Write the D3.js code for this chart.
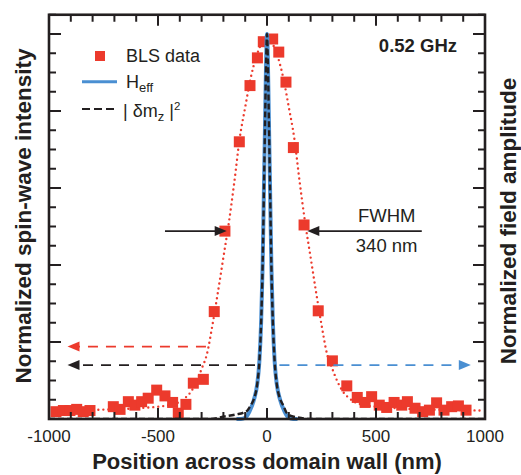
<!DOCTYPE html>
<html>
<head>
<meta charset="utf-8">
<script src="https://cdn.jsdelivr.net/npm/d3@7/dist/d3.min.js"></script>
<style>
  html, body { margin: 0; padding: 0; background: #fff; }
  svg { display: block; font-family: "Liberation Sans", Arial, Helvetica, sans-serif; }
</style>
</head>
<body>
<svg id="chart" width="521" height="475"></svg>
<script>
// BLS spin-wave intensity across the domain wall (position in nm, normalized intensity)
const blsX = [-968, -934, -904, -873, -843, -812, -705, -674, -636, -606, -575, -545, -506, -468, -433, -407, -372, -338, -292,
              -242, -193, -127, -78, -44, -17, 26, 54, 87, 121, 170, 235, 300, 366, 414, 450, 480, 515, 549, 583, 618, 644,
              679, 714, 745, 778, 812, 847, 878, 913];
const blsY = [0.019, 0.022, 0.022, 0.025, 0.019, 0.022, 0.032, 0.025, 0.045, 0.036, 0.045, 0.054, 0.075, 0.060, 0.043, 0.015, 0.038, 0.093, 0.103,
              0.279, 0.488, 0.720, 0.866, 0.938, 0.980, 0.987, 0.953, 0.875, 0.705, 0.504, 0.281, 0.151, 0.086, 0.056, 0.043, 0.058, 0.036, 0.030, 0.043, 0.036, 0.045,
              0.028, 0.019, 0.023, 0.042, 0.023, 0.032, 0.034, 0.023];

// Fit through the BLS profile (FWHM 340 nm)
const fitX = [-980, -900, -800, -700, -600, -500, -450, -400, -375, -350, -325, -300, -275, -250, -225, -200, -175, -150, -125, -100, -75, -50, -25, 0,
              25, 50, 75, 100, 125, 150, 175, 200, 225, 250, 275, 300, 325, 350, 375, 400, 450, 500, 600, 700, 800, 900, 980];
const fitY = [0.022, 0.023, 0.024, 0.025, 0.028, 0.032, 0.036, 0.045, 0.055, 0.07, 0.095, 0.13, 0.17, 0.245, 0.33, 0.42, 0.51, 0.615, 0.73, 0.81, 0.885, 0.94, 0.975, 0.993,
              0.975, 0.94, 0.885, 0.81, 0.73, 0.615, 0.51, 0.42, 0.33, 0.245, 0.17, 0.13, 0.095, 0.07, 0.055, 0.045, 0.036, 0.032, 0.028, 0.025, 0.024, 0.023, 0.022];

// Effective field profile H_eff
const heffX = [-140, -120, -100, -80, -60, -45, -35, -27, -20, -14, -8, -4, 0, 4, 8, 14, 20, 27, 35, 45, 60, 80, 100, 120, 140];
const heffY = [0, 0, 0.003, 0.02, 0.05, 0.09, 0.15, 0.25, 0.40, 0.60, 0.80, 0.93, 1.0, 0.93, 0.80, 0.60, 0.40, 0.25, 0.15, 0.09, 0.05, 0.02, 0.003, 0, 0];

// Dynamic magnetization |δm_z|^2
const dmX = [-1000, -260, -200, -140, -110, -90, -75, -60, -45, -35, -27, -20, -14, -8, -4, 0, 4, 8, 14, 20, 27, 35, 45, 60, 75, 90, 110, 140, 200, 1000];
const dmY = [0, 0, 0.006, 0.012, 0.016, 0.022, 0.035, 0.052, 0.09, 0.15, 0.25, 0.40, 0.60, 0.80, 0.93, 1.0, 0.93, 0.80, 0.60, 0.40, 0.25, 0.15, 0.09, 0.052, 0.035, 0.016, 0.008, 0.004, 0, 0];

// Axis ticks
const xTickLabels = [-1000, -500, 0, 500, 1000];
const xMinorTicks = d3.range(-1000, 1001, 100);
const yMinorTicks = d3.range(0, 1.051, 0.05);
const yMajorTicks = [0, 0.2, 0.4, 0.6, 0.8, 1.0];

const RED = "#ec3a2c", BLUE = "#4a8fd2", INK = "#231f20";

const svg = d3.select("#chart");
const x = d3.scaleLinear().domain([-1000, 1000]).range([49, 485]);
const y = d3.scaleLinear().domain([0, 1.05]).range([419, 14.75]);

const plot = svg.append("g");
plot.append("clipPath").attr("id", "clip").append("rect")
  .attr("x", 49).attr("y", 14.75).attr("width", 436).attr("height", 404.25);

// dotted fit
const fitLine = d3.line().x(d => x(d[0])).y(d => y(d[1])).curve(d3.curveMonotoneX);
plot.append("path")
  .attr("d", fitLine(d3.zip(fitX, fitY)))
  .attr("fill", "none").attr("stroke", RED).attr("stroke-width", 2.4)
  .attr("stroke-linecap", "round").attr("stroke-dasharray", "0,5")
  .attr("clip-path", "url(#clip)");

// BLS squares
const sq = 11;
plot.selectAll("rect.bls").data(d3.zip(blsX, blsY)).join("rect")
  .attr("class", "bls")
  .attr("x", d => x(d[0]) - sq / 2).attr("y", d => y(d[1]) - sq / 2)
  .attr("width", sq).attr("height", sq).attr("fill", RED);

// H_eff and |δm_z|^2 profiles
plot.append("path")
  .attr("d", fitLine(d3.zip(heffX, heffY)))
  .attr("fill", "none").attr("stroke", BLUE).attr("stroke-width", 4);
plot.append("path")
  .attr("d", fitLine(d3.zip(dmX, dmY)))
  .attr("fill", "none").attr("stroke", INK).attr("stroke-width", 2.4)
  .attr("stroke-dasharray", "6,3").attr("clip-path", "url(#clip)");

// horizontal arrow from x0 to tip x1 at level yv
function arrow(x0, x1, yv, color, dashed) {
  const px0 = x(x0), px1 = x(x1), py = y(yv);
  const dir = Math.sign(px1 - px0);
  const headLen = 12, headW = 5;
  plot.append("line")
    .attr("x1", px0).attr("x2", px1 - dir * headLen * 0.8).attr("y1", py).attr("y2", py)
    .attr("stroke", color).attr("stroke-width", 1.8)
    .attr("stroke-dasharray", dashed ? "10,8" : null);
  plot.append("path")
    .attr("d", `M${px1},${py} L${px1 - dir * headLen},${py - headW} L${px1 - dir * headLen},${py + headW} Z`)
    .attr("fill", color);
}
arrow(-280, -915, 0.188, RED, true);
arrow(-55, -915, 0.14, INK, true);
arrow(57, 935, 0.14, BLUE, true);
arrow(-468, -185, 0.488, INK, false);
arrow(710, 185, 0.488, INK, false);

// FWHM annotation
plot.append("text").attr("x", x(549)).attr("y", 222).attr("text-anchor", "middle")
  .attr("font-size", 18.5).attr("fill", INK).text("FWHM");
plot.append("text").attr("x", x(549)).attr("y", 252).attr("text-anchor", "middle")
  .attr("font-size", 18.5).attr("fill", INK).text("340 nm");

// frequency label
plot.append("text").attr("x", 457).attr("y", 52).attr("text-anchor", "end")
  .attr("font-size", 18.5).attr("font-weight", "bold").attr("fill", INK).text("0.52 GHz");

// legend
const lg = svg.append("g");
lg.append("rect").attr("x", 95).attr("y", 51).attr("width", 10).attr("height", 10).attr("fill", RED);
lg.append("text").attr("x", 126).attr("y", 62).attr("font-size", 18).attr("fill", INK).text("BLS data");
lg.append("line").attr("x1", 82).attr("x2", 117).attr("y1", 81.7).attr("y2", 81.7)
  .attr("stroke", BLUE).attr("stroke-width", 3);
const t2 = lg.append("text").attr("x", 126).attr("y", 88).attr("font-size", 18).attr("fill", INK);
t2.append("tspan").text("H");
t2.append("tspan").attr("font-size", 13).attr("dy", 4).text("eff");
lg.append("line").attr("x1", 82).attr("x2", 117).attr("y1", 109).attr("y2", 109)
  .attr("stroke", INK).attr("stroke-width", 2.2).attr("stroke-dasharray", "8,4");
const t3 = lg.append("text").attr("x", 123).attr("y", 117).attr("font-size", 18).attr("fill", INK);
t3.append("tspan").text("| δm");
t3.append("tspan").attr("font-size", 13).attr("dy", 4).text("z");
t3.append("tspan").attr("dy", -4).text(" |");
t3.append("tspan").attr("font-size", 11.5).attr("dy", -7).text("2");

// axes frame and inward ticks
const ax = svg.append("g").attr("stroke", INK);
ax.selectAll("line.xb").data(xMinorTicks).join("line")
  .attr("x1", d => x(d)).attr("x2", d => x(d))
  .attr("y1", 419).attr("y2", d => 419 - (d % 500 === 0 ? 11 : 7)).attr("stroke-width", 2);
ax.selectAll("line.xt").data(xMinorTicks).join("line")
  .attr("x1", d => x(d)).attr("x2", d => x(d))
  .attr("y1", 14.75).attr("y2", d => 14.75 + (d % 500 === 0 ? 11 : 7)).attr("stroke-width", 2);
const isMajorY = v => yMajorTicks.some(m => Math.abs(m - v) < 1e-6);
ax.selectAll("line.yl").data(yMinorTicks).join("line")
  .attr("y1", d => y(d)).attr("y2", d => y(d))
  .attr("x1", 49).attr("x2", d => 49 + (isMajorY(d) ? 12 : 7)).attr("stroke-width", 2);
ax.selectAll("line.yr").data(yMinorTicks).join("line")
  .attr("y1", d => y(d)).attr("y2", d => y(d))
  .attr("x1", 485).attr("x2", d => 485 - (isMajorY(d) ? 12 : 7)).attr("stroke-width", 2);
ax.append("rect").attr("x", 49).attr("y", 14.75).attr("width", 436).attr("height", 404.25)
  .attr("fill", "none").attr("stroke-width", 2.6);

// tick labels
svg.append("g").selectAll("text").data(xTickLabels).join("text")
  .attr("x", d => x(d)).attr("y", 442).attr("text-anchor", "middle")
  .attr("font-size", 17).attr("fill", INK).text(d => d);

// axis titles
svg.append("text").attr("x", 267).attr("y", 469).attr("text-anchor", "middle")
  .attr("font-size", 22).attr("font-weight", "bold").attr("fill", INK)
  .text("Position across domain wall (nm)");
svg.append("text").attr("transform", "translate(31,216) rotate(-90)").attr("text-anchor", "middle")
  .attr("font-size", 22.5).attr("font-weight", "bold").attr("fill", INK)
  .text("Normalized spin-wave intensity");
svg.append("text").attr("transform", "translate(516,221) rotate(-90)").attr("text-anchor", "middle")
  .attr("font-size", 22.5).attr("font-weight", "bold").attr("fill", INK)
  .text("Normalized field amplitude");
</script>
</body>
</html>
